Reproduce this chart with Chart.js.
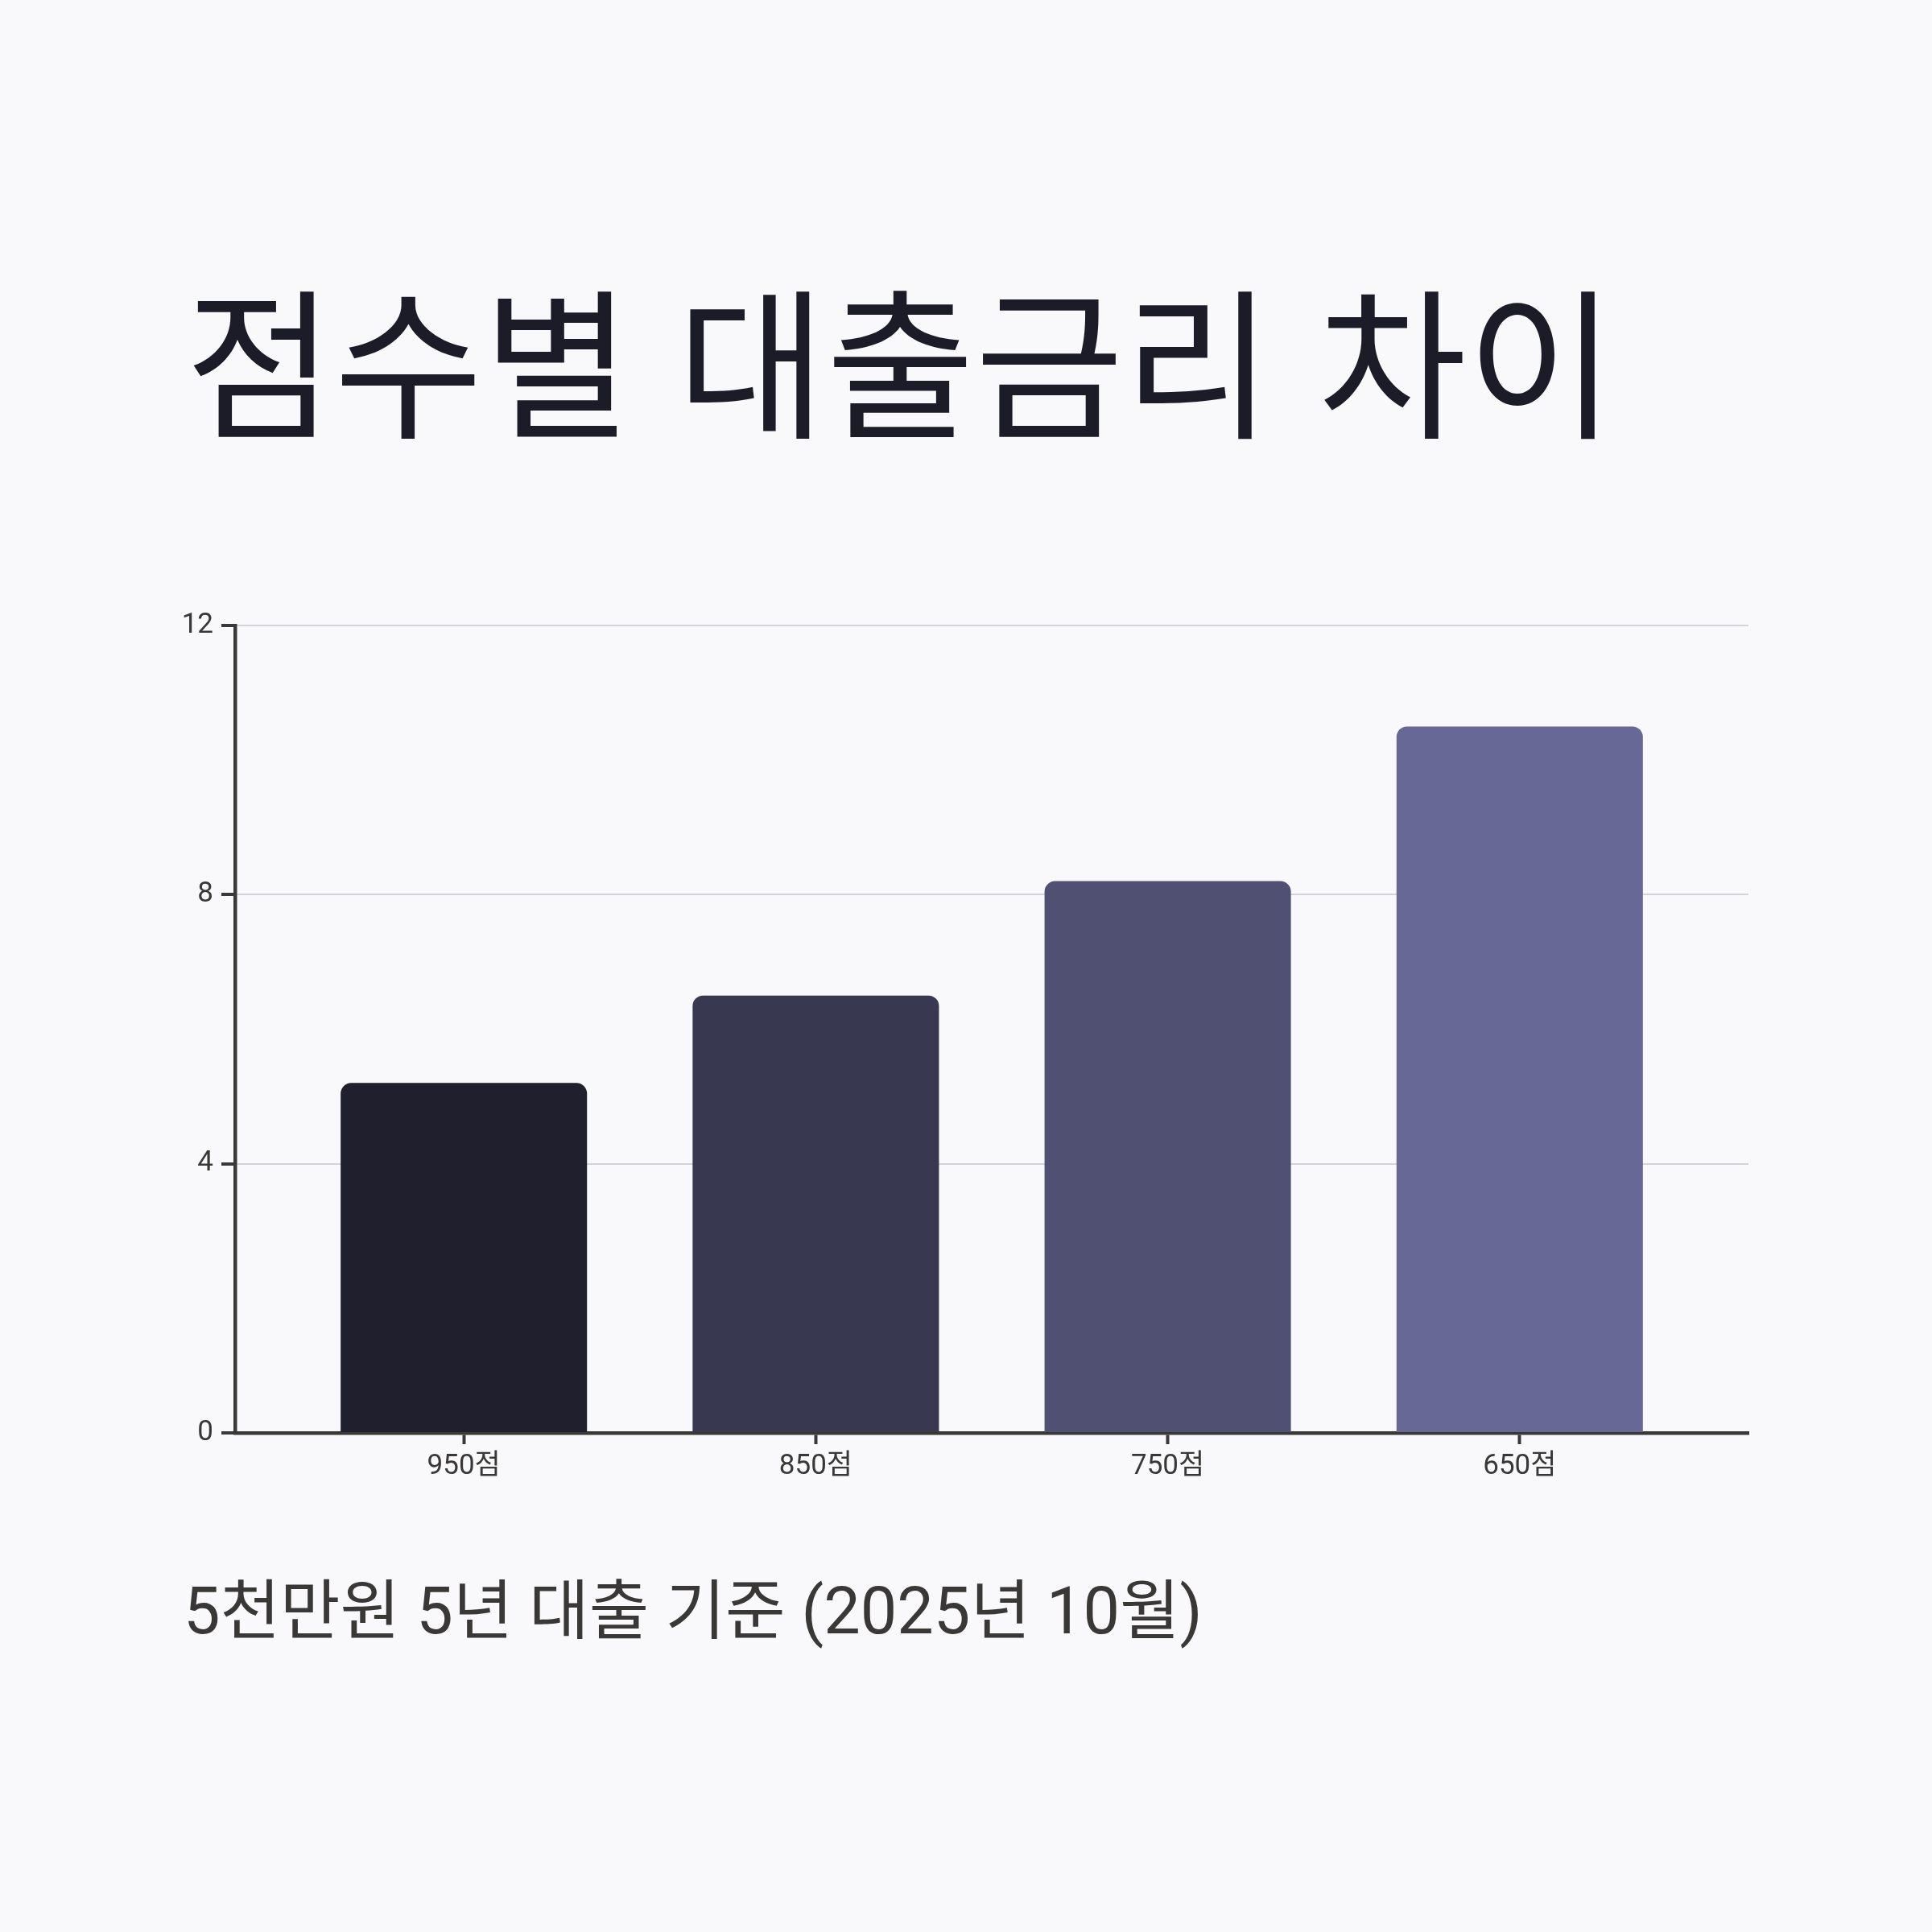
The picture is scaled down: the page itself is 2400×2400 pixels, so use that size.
<!DOCTYPE html>
<html lang="ko">
<head>
<meta charset="utf-8">
<script src="https://cdn.jsdelivr.net/npm/chart.js@4.4.1/dist/chart.umd.min.js"></script>
<style>
  html, body { margin: 0; padding: 0; background: #f9f9fb; }
  body { width: 2400px; height: 2400px; position: relative; overflow: hidden;
         font-family: Roboto, "Noto Sans CJK KR", sans-serif; }
  #title { position: absolute; left: 230px; top: 341px; margin: 0;
           font-family: "Noto Sans CJK KR", sans-serif; font-weight: 400;
           font-size: 201px; line-height: 1; color: #1c1c28; white-space: nowrap; }
  #subtitle { position: absolute; left: 228px; top: 1961px; margin: 0;
              font-family: Roboto, "Noto Sans CJK KR", sans-serif; font-weight: 400;
              font-size: 81px; line-height: 1; color: #3a3836; white-space: nowrap; }
  #wrap { position: absolute; left: 0; top: 700px; width: 2400px; height: 1200px; }
</style>
</head>
<body>
<h1 id="title">점수별 대출금리 차이</h1>
<div id="wrap"><canvas id="c" width="2400" height="1200"></canvas></div>
<p id="subtitle">5천만원 5년 대출 기준 (2025년 10월)</p>
<script>
const categories = ["950점", "850점", "750점", "650점"];
const rates = [5.2, 6.5, 8.2, 10.5];
const barColors = ["#1f1f2e", "#383850", "#505073", "#686896"];
const yTicks = [0, 4, 8, 12];

const points = categories.map((c, i) => ({ x: i, y: rates[i] }));

new Chart(document.getElementById('c'), {
  type: 'bar',
  data: {
    datasets: [{
      data: points,
      backgroundColor: barColors,
      borderRadius: 13,
      borderSkipped: 'start',
      barPercentage: 0.7,
      categoryPercentage: 1.0
    }]
  },
  options: {
    responsive: false,
    devicePixelRatio: 1,
    animation: false,
    layout: { padding: { left: 0, right: 228, top: 77, bottom: 40 } },
    plugins: { legend: { display: false }, tooltip: { enabled: false }, title: { display: false } },
    scales: {
      x: {
        type: 'linear',
        min: -0.65,
        max: 3.65,
        offset: false,
        afterBuildTicks: (s) => { s.ticks = categories.map((_, i) => ({ value: i })); },
        afterFit: (s) => { s.height = 80; },
        ticks: {
          includeBounds: false,
          callback: (v) => categories[v],
          color: '#3a3836',
          font: { family: 'Roboto, "Noto Sans CJK KR"', size: 35 },
          padding: 7,
          maxRotation: 0,
          autoSkip: false
        },
        grid: { offset: false, drawOnChartArea: false, tickLength: 14, tickWidth: 4, tickColor: '#3a3836' },
        border: { display: true, color: '#3a3836', width: 4.5 }
      },
      y: {
        min: 0,
        max: 12,
        afterBuildTicks: (s) => { s.ticks = yTicks.map(v => ({ value: v })); },
        afterFit: (s) => { s.width = 292; },
        ticks: {
          color: '#3a3836',
          font: { family: 'Roboto, "Noto Sans CJK KR"', size: 35 },
          padding: 10
        },
        grid: { color: '#d4d4d8', lineWidth: 2, tickLength: 17, tickWidth: 4, tickColor: '#3a3836' },
        border: { display: true, color: '#3a3836', width: 4.5 }
      }
    }
  }
});
</script>
</body>
</html>
